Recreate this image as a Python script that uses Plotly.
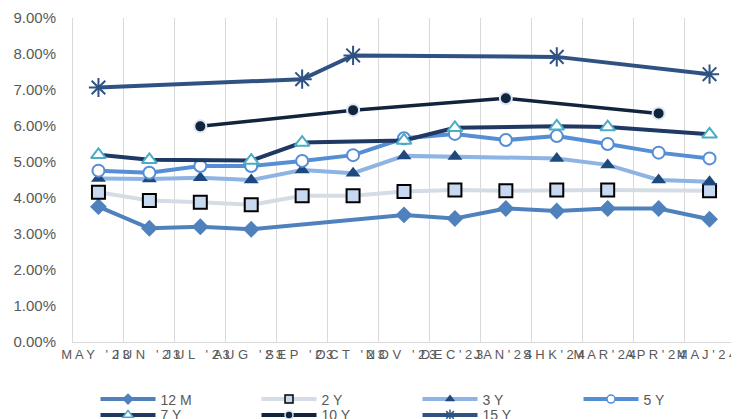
import plotly.graph_objects as go

months = ["MAY '23", "JUN '23", "JUL '23", "AUG '23", "SEP '23", "OCT '23", "NOV '23",
          "DEC'23", "JAN'24", "SHK'24", "MAR'24", "APR'24", "MAJ'24"]
month_labels = ["M A Y \u00a0\u00a0' 2 3", "J U N \u00a0\u00a0' 2 3", "J U L \u00a0\u00a0' 2 3",
                "A U G \u00a0\u00a0' 2 3", "S E P \u00a0\u00a0' 2 3", "O C T \u00a0\u00a0' 2 3",
                "N O V \u00a0\u00a0' 2 3", "D E C ' 2 3", "J A N ' 2 4", "S H K ' 2 4",
                "M A R ' 2 4", "A P R ' 2 4", "M A J ' 2 4"]

m12 = [3.76, 3.16, 3.20, 3.13, None, None, 3.53, 3.43, 3.71, 3.64, 3.71, 3.71, 3.41]
y2 = [4.16, 3.93, 3.88, 3.81, 4.06, 4.06, 4.18, 4.22, 4.20, 4.22, 4.22, None, 4.20]
y3 = [4.54, 4.53, 4.56, 4.50, 4.78, 4.69, 5.17, 5.15, None, 5.10, 4.92, 4.50, 4.45]
y5 = [4.76, 4.70, 4.89, 4.89, 5.03, 5.19, 5.66, 5.78, 5.61, 5.72, 5.50, 5.26, 5.10]
y7 = [5.20, 5.06, None, 5.04, 5.54, None, 5.60, 5.95, None, 5.99, 5.97, None, 5.77]
y10 = [None, None, 5.99, None, None, 6.44, None, None, 6.77, None, None, 6.35, None]
y15 = [7.07, None, None, None, 7.30, 7.96, None, None, None, 7.92, None, None, 7.44]

# name, values, line colour, line width, marker symbol, size, fill, border colour, legend row
series = [
    ("12 M", m12, "#4f81bd", 4, "diamond", 13, "#4f81bd", None, "legend"),
    ("2 Y", y2, "#d6dce5", 4, "square", 13, "#c6d9f1", "black", "legend"),
    ("3 Y", y3, "#8db4e2", 4, "triangle-up", 13, "#1f497d", None, "legend"),
    ("5 Y", y5, "#558ed5", 4, "circle", 12, "white", "#558ed5", "legend"),
    ("7 Y", y7, "#1f3864", 4, "triangle-up", 13, "white", "#4bacc6", "legend2"),
    ("10 Y", y10, "#10243e", 3.5, "circle", 12, "#10243e", "#dce6f2", "legend2"),
    ("15 Y", y15, "#2f5283", 4, "asterisk-open", 16, None, "#1f3864", "legend2"),
]
legend_sizes = [9, 8, 9, 8, 9, 8, 9]

fig = go.Figure()

for (name, vals, lc, lw, sym, size, fill, border, leg), lsize in zip(series, legend_sizes):
    marker = dict(symbol=sym, size=size)
    if fill:
        marker["color"] = fill
    if border:
        marker["line"] = dict(color=border, width=2)
    fig.add_trace(go.Scatter(
        x=months, y=[v / 100 if v is not None else None for v in vals],
        name=name, mode="lines+markers", connectgaps=True, showlegend=False,
        line=dict(color=lc, width=lw), marker=marker,
    ))
    leg_marker = dict(marker, size=lsize)
    if border:
        leg_marker["line"] = dict(color=border, width=1.5)
    fig.add_trace(go.Scatter(
        x=[None], y=[None], name=name, mode="lines+markers", legend=leg,
        line=dict(color=lc, width=4), marker=leg_marker,
    ))

fig.update_xaxes(
    type="category", tickmode="array", tickvals=months, ticktext=month_labels,
    tickangle=0, tickson="boundaries", ticks="", showgrid=True, gridcolor="#d9d9d9",
    gridwidth=1, showline=True, linecolor="#d9d9d9", linewidth=1, ticklabelshift=-3,
    tickfont=dict(family="Liberation Sans, Arial", size=13, color="#595959"),
    range=[-0.5, 12.5],
)
fig.update_yaxes(
    range=[0, 0.09], dtick=0.01, tickformat=".2%", showgrid=False,
    showline=True, linecolor="#d9d9d9", linewidth=1, ticks="", zeroline=False,
    ticklabelstandoff=13,
    tickfont=dict(family="Liberation Sans, Arial", size=15, color="#595959"),
)
legend_style = dict(orientation="h", x=0.034, xanchor="left", yanchor="top",
                    font=dict(family="Liberation Sans, Arial", size=14, color="#595959"),
                    entrywidth=91, entrywidthmode="pixels", itemwidth=55,
                    tracegroupgap=0, bgcolor="rgba(0,0,0,0)")
# page body adds an 8px offset, so margins are shifted to compensate
fig.update_layout(
    width=739, height=419,
    margin=dict(l=65, r=12, t=10, b=85, autoexpand=False),
    plot_bgcolor="white", paper_bgcolor="white",
    legend=dict(legend_style, y=-0.128),
    legend2=dict(legend_style, y=-0.177),
)

fig.write_html("out.html")
